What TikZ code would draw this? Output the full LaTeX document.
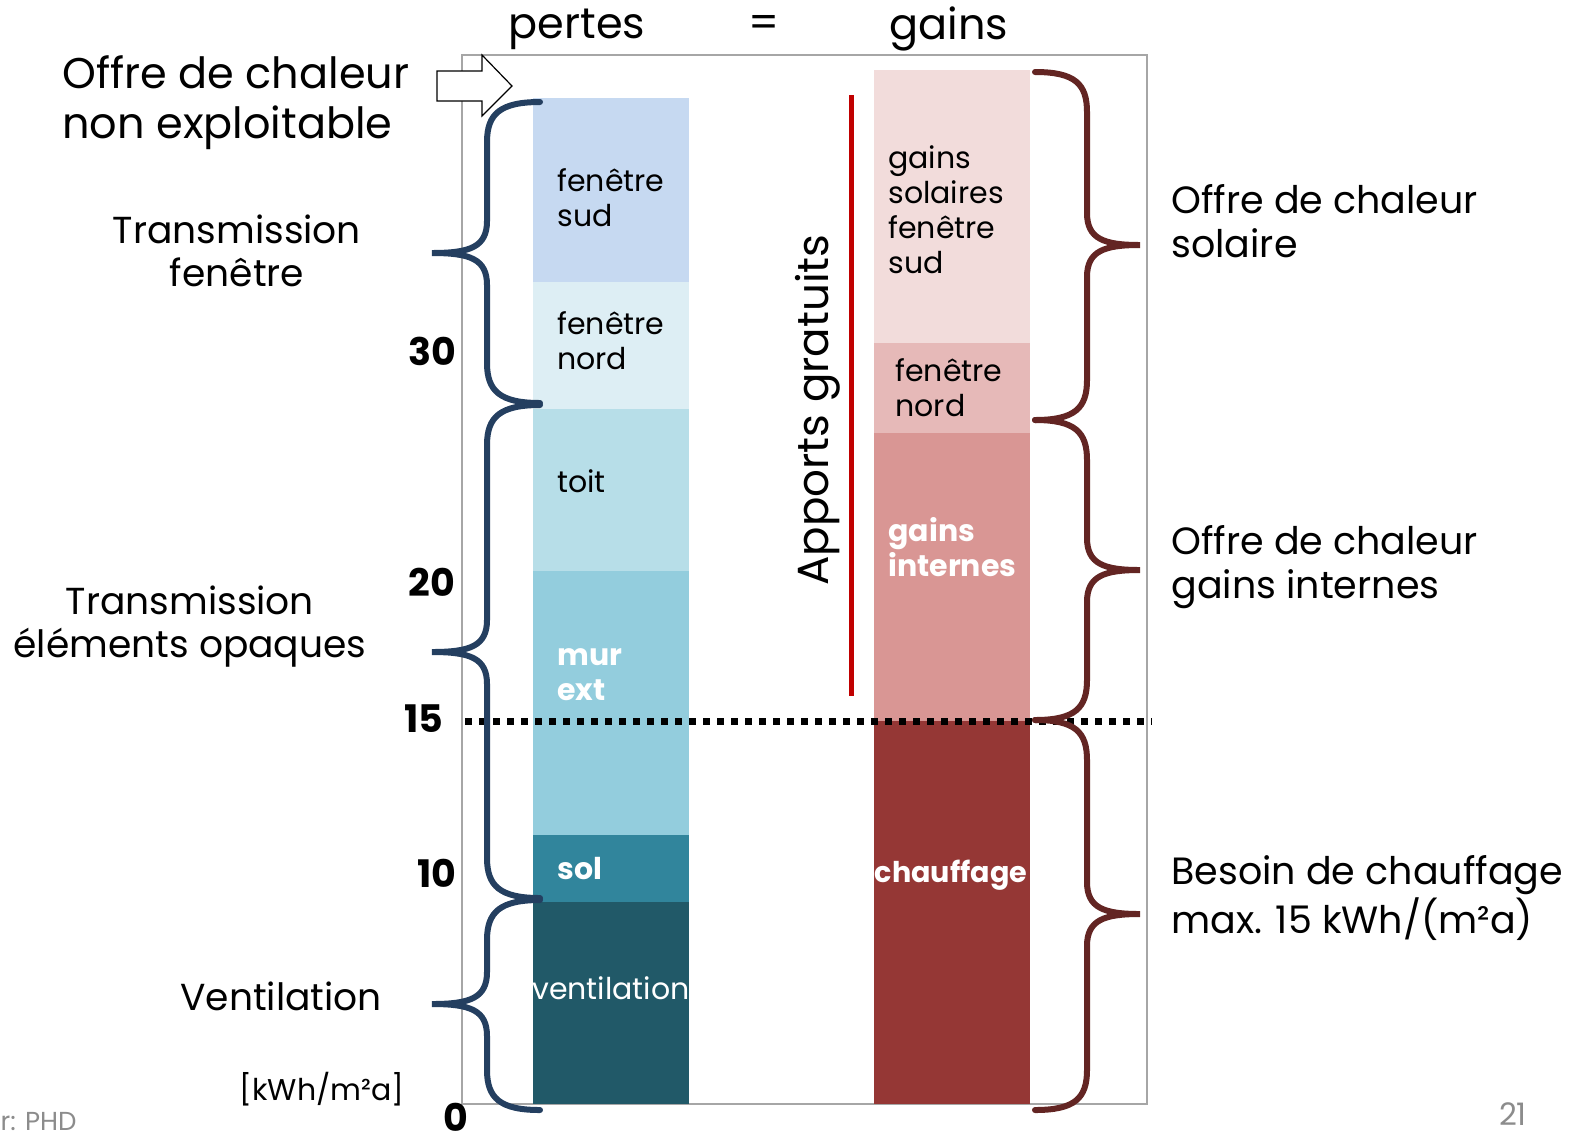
\documentclass[tikz,border=0pt]{standalone}
\usepackage{fontspec}
\setmainfont{Poppins}
\usetikzlibrary{positioning}

\definecolor{fsudc}{HTML}{C6D9F1}
\definecolor{fnordc}{HTML}{DDEEF4}
\definecolor{toitc}{HTML}{B7DEE8}
\definecolor{murc}{HTML}{93CDDD}
\definecolor{solc}{HTML}{31859C}
\definecolor{ventc}{HTML}{215968}
\definecolor{gsolc}{HTML}{F2DCDB}
\definecolor{gnordc}{HTML}{E6B9B8}
\definecolor{gintc}{HTML}{D99694}
\definecolor{chaufc}{HTML}{953735}
\definecolor{pertebr}{HTML}{243F60}
\definecolor{gainbr}{HTML}{632523}
\definecolor{rouge}{HTML}{C00000}
\definecolor{cadre}{HTML}{A6A6A6}
\definecolor{pied}{HTML}{8C8C8C}

% accolade cote pertes: haut, bas, pointe
\newcommand{\pertebrace}[3]{%
  \draw[brace, pertebr] (540,#1) .. controls (500,#1) and (487,#1+12) .. (487,#1+40)
    -- (487,#3-32) .. controls (487,#3-6) and (470,#3) .. (432,#3)
    .. controls (470,#3) and (487,#3+6) .. (487,#3+32)
    -- (487,#2-40) .. controls (487,#2-12) and (500,#2) .. (540,#2);}
% accolade cote gains: haut, bas, pointe
\newcommand{\gainbrace}[3]{%
  \draw[brace, gainbr] (1035,#1) .. controls (1075,#1) and (1087,#1+12) .. (1087,#1+40)
    -- (1087,#3-32) .. controls (1087,#3-6) and (1104,#3) .. (1140,#3)
    .. controls (1104,#3) and (1087,#3+6) .. (1087,#3+32)
    -- (1087,#2-40) .. controls (1087,#2-12) and (1075,#2) .. (1035,#2);}

\begin{document}
\begin{tikzpicture}[x=0.5pt,y=-0.5pt,every node/.style={inner sep=0pt,align=left}]
        \tikzstyle{big}=[font=\fontsize{21.5}{25}\selectfont]
        \tikzstyle{side}=[font=\fontsize{18.8}{21.5}\selectfont, align=center]
        \tikzstyle{right}=[font=\fontsize{19}{22}\selectfont, anchor=west]
        \tikzstyle{inbox}=[font=\fontsize{15}{17.5}\selectfont, anchor=west]
        \tikzstyle{inboxw}=[inbox, text=white, font=\fontsize{15}{17.5}\selectfont\bfseries]
        \tikzstyle{num}=[font=\fontsize{19}{22}\selectfont\bfseries]
        \tikzstyle{brace}=[line width=3pt, line cap=round]
        \tikzstyle{grey}=[text=pied, font=\fontsize{13}{15}\selectfont]

        \useasboundingbox (0,0) rectangle (1577,1142);

        % cadre
        \draw[cadre, line width=1pt] (462,55) rectangle (1147,1104);

        % colonne pertes
        \fill[fsudc]  (533,98)  rectangle (689,282);
        \fill[fnordc] (533,282) rectangle (689,409);
        \fill[toitc]  (533,409) rectangle (689,571);
        \fill[murc]   (533,571) rectangle (689,835);
        \fill[solc]   (533,835) rectangle (689,902);
        \fill[ventc]  (533,902) rectangle (689,1104);

        % colonne gains
        \fill[gsolc]  (874,70)  rectangle (1030,343);
        \fill[gnordc] (874,343) rectangle (1030,433);
        \fill[gintc]  (874,433) rectangle (1030,721);
        \fill[chaufc] (874,721) rectangle (1030,1104);

        % textes des blocs
        \node[inbox]  (fsud)  at (557,198) {fenêtre\\sud};
        \node[inbox]  (fnord) at (557,341) {fenêtre\\nord};
        \node[inbox]  (toit)  at (557,481) {toit};
        \node[inboxw] (mur)   at (557,675) {mur\\ext};
        \node[inboxw] (sol)   at (557,868) {sol};
        \node[inbox, text=white, anchor=center] (vent) at (611,988) {ventilation};
        \node[inbox]  (gsol)  at (888,210) {gains\\solaires\\fenêtre\\sud};
        \node[inbox]  (gnord) at (895,388) {fenêtre\\nord};
        \node[inboxw] (gint)  at (888,547) {gains\\internes};
        \node[inboxw, anchor=center, font=\fontsize{14.3}{17}\selectfont\bfseries] (chauf) at (951,875) {chauffage};

        % ligne 15 kWh
        \draw[line width=3.5pt, dash pattern=on 3.5pt off 3.5pt] (465,721) -- (1152,721);

        % apports gratuits
        \draw[rouge, line width=2.5pt] (851,95) -- (851,696);
        \node[big, font=\fontsize{21.8}{25}\selectfont, rotate=90] (apports) at (818,410) {Apports gratuits};

        % fleche
        \draw[fill=white, line width=0.6pt] (437,71) -- (482,71) -- (482,55) -- (512,86)
          -- (482,116) -- (482,101) -- (437,101) -- cycle;

        % accolades
        \pertebrace{102}{403}{253}
        \pertebrace{405}{898}{652}
        \pertebrace{900}{1110}{1004}
        \gainbrace{72}{420}{245}
        \gainbrace{420}{720}{570}
        \gainbrace{720}{1110}{914}

        % titres
        \node[big] (pertes) at (577,29) {pertes};
        \node[big] (egal)   at (764,26) {=};
        \node[big] (gains)  at (949,29) {gains};

        % gauche
        \node[big, anchor=west] (nonexp) at (62,103) {Offre de chaleur\\non exploitable};
        \node[side] (tfen) at (237,251) {Transmission\\fenêtre};
        \node[side] (topaq) at (190,627) {Transmission\\éléments opaques};
        \node[side] (ventl) at (281,996) {Ventilation};
        \node[font=\fontsize{15}{17}\selectfont] (unite) at (322,1089) {[kWh/m²a]};

        % echelle
        \node[num] (n30) at (432,351) {30};
        \node[num] (n20) at (432,582) {20};
        \node[num] (n15) at (424,719) {15};
        \node[num] (n10) at (437,873) {10};
        \node[num] (n0)  at (456,1117) {0};

        % droite
        \node[right] (osol) at (1171,221) {Offre de chaleur\\solaire};
        \node[right] (oint) at (1171,567) {Offre de chaleur\\gains internes};
        \node[right] (besoin) at (1171,898) {Besoin de chauffage\\max. 15 kWh/(m²a)};

        % pied
        \node[grey, anchor=east] (source) at (77,1121) {r: PHD};
        \node[grey, font=\fontsize{15.5}{17}\selectfont] (page) at (1513,1114) {21};
\end{tikzpicture}
\end{document}
